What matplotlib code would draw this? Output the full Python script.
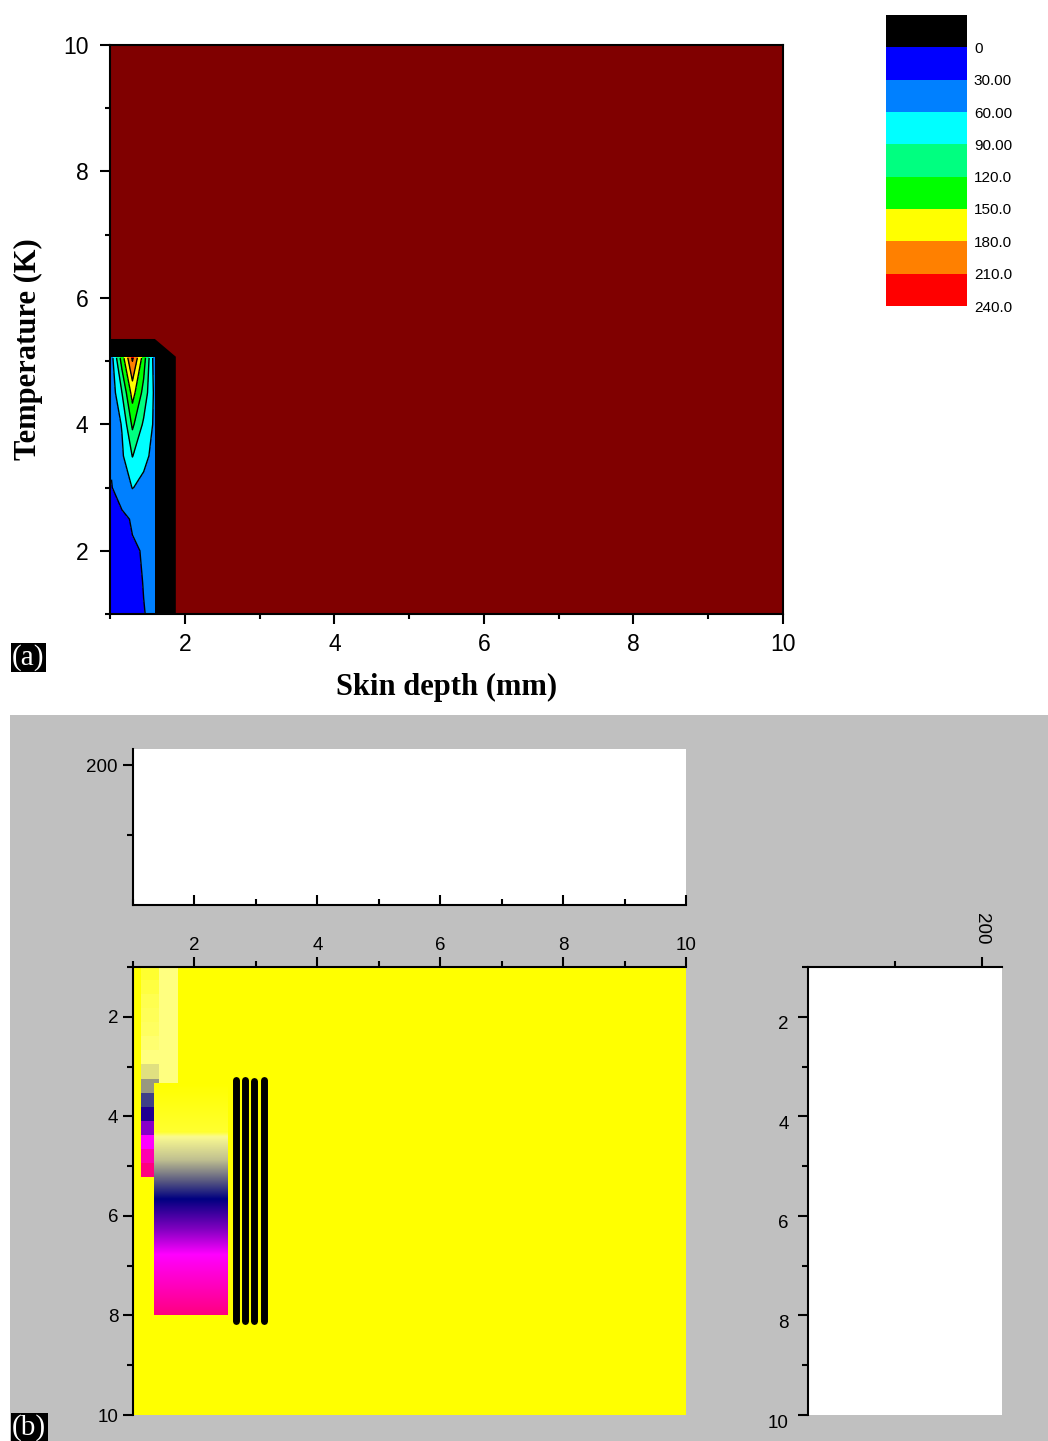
import numpy as np
import matplotlib
matplotlib.use('Agg')
import matplotlib.pyplot as plt
import matplotlib.cm as cm
from matplotlib.colors import ListedColormap, BoundaryNorm, LinearSegmentedColormap
from matplotlib.patches import Rectangle
from matplotlib.ticker import MultipleLocator, FixedLocator
from matplotlib.transforms import ScaledTranslation

W, H = 1048, 1441

# ---- panel (a): contour of the data block ----
depth = [1.02, 1.16, 1.30, 1.45, 1.59]
temp = [1.0, 1.5, 2.0, 2.5, 3.0, 3.5, 4.0, 4.5, 5.05]
# one row per temp value, one column per depth value
heat = [
    [10, 13, 17, 29, 36],
    [13, 17, 20, 31, 38],
    [15, 22, 28, 31, 41],
    [17, 25, 32, 38, 45],
    [29, 42, 61, 52, 48],
    [33, 55, 91, 68, 52],
    [38, 62, 126, 85, 56],
    [42, 90, 162, 110, 56],
    [48, 135, 215, 135, 48],
]
levels = [0, 30, 60, 90, 120, 150, 180, 210, 240]
band_colors = ['#0000ff', '#0080ff', '#00ffff', '#00ff80',
               '#00ff00', '#ffff00', '#ff8000', '#ff0000']
legend_labels = ['0', '30.00', '60.00', '90.00', '120.0',
                 '150.0', '180.0', '210.0', '240.0']
# outline of the black frame around the data block
frame_x = [1.0, 1.0, 1.60, 1.88, 1.88]
frame_y = [1.0, 5.35, 5.35, 5.07, 1.0]

# ---- panel (b): image pieces ----
strip_colors = ['#ffff30', '#ffff40', '#ffff50', '#ffff58', '#ffff60',
                '#ffff70', '#ffff80', '#e0e080', '#989880', '#404088',
                '#200090', '#8800c8', '#ff00ff', '#ff00b0', '#ff0080']
pale_color = '#ffff80'
ramp_pos = [0.0, 0.21, 0.23, 0.33, 0.43, 0.50, 0.63, 0.74, 1.0]
ramp_colors = ['#ffff00', '#ffff30', '#fafa90', '#c0c090', '#505080',
               '#000080', '#8000c0', '#ff00ff', '#ff0080']
stroke_x = [2.68, 2.83, 2.97, 3.14]
stroke_top = [3.28, 3.28, 3.30, 3.28]
stroke_bottom = [8.12, 8.12, 8.12, 8.12]

sans = 'Liberation Sans'
serif = 'Liberation Serif'

fig = plt.figure(figsize=(W / 100, H / 100), dpi=100)
fig.patches.append(Rectangle((10 / W, 0), 1038 / W, 726 / H, transform=fig.transFigure,
                             facecolor='#c0c0c0', edgecolor='none', zorder=-1))

# ---------------- panel (a) ----------------
ax = fig.add_axes([110 / W, 1 - 614 / H, 673 / W, 569 / H])
ax.set_facecolor('#800000')
ax.fill(frame_x, frame_y, color='black', lw=0)
ax.contourf(depth, temp, heat, levels=levels, colors=band_colors)
ax.contour(depth, temp, heat, levels=levels[1:-1], colors='black', linewidths=1.0)
ax.set_xlim(1, 10)
ax.set_ylim(1, 10)
for s in ax.spines.values():
    s.set_linewidth(1.5)
ax.xaxis.set_major_locator(MultipleLocator(2))
ax.xaxis.set_minor_locator(MultipleLocator(1))
ax.yaxis.set_major_locator(MultipleLocator(2))
ax.yaxis.set_minor_locator(MultipleLocator(1))
ax.tick_params(which='both', direction='out', width=1.5, top=False, right=False,
               labelsize=16.5, labelfontfamily=sans)
ax.tick_params(which='major', length=7.5)
ax.tick_params(which='minor', length=3.5)
ax.tick_params(axis='x', pad=6)
ax.tick_params(axis='y', pad=8)
ax.set_xlabel('Skin depth (mm)', fontfamily=serif, fontweight='bold', fontsize=22)
ax.set_ylabel('Temperature (K)', fontfamily=serif, fontweight='bold', fontsize=22)
ax.xaxis.set_label_coords(0.5, -0.103)
ax.yaxis.set_label_coords(-0.100, 0.466)

cax = fig.add_axes([886 / W, 1 - 306 / H, 81 / W, 291 / H])
cmap = ListedColormap(['black'] + band_colors)
norm = BoundaryNorm([-30] + levels, cmap.N)
cb = fig.colorbar(cm.ScalarMappable(norm=norm, cmap=cmap), cax=cax, ticks=levels)
cb.ax.invert_yaxis()
cb.outline.set_visible(False)
cb.ax.minorticks_off()
cb.ax.tick_params(which='both', length=0, pad=5)
cb.ax.set_yticklabels(legend_labels, fontfamily=sans, fontsize=11)

fig.text(12 / W, 1 - 671 / H, '(a)', color='white', fontfamily=serif, fontsize=21,
         ha='left', va='bottom', bbox=dict(facecolor='black', edgecolor='none', pad=1))

# ---------------- panel (b) ----------------
def style_b(a):
    for s in a.spines.values():
        s.set_linewidth(1.5)
    a.spines['right'].set_visible(False)
    a.tick_params(which='both', width=1.5, labelsize=13.5, labelfontfamily=sans)
    a.tick_params(which='major', length=7.5)
    a.tick_params(which='minor', length=4)

top_ax = fig.add_axes([133 / W, 1 - 905 / H, 553 / W, 156 / H])
top_ax.set_xlim(1, 10)
top_ax.set_ylim(0, 223)
top_ax.spines['top'].set_visible(False)
top_ax.xaxis.set_major_locator(MultipleLocator(2))
top_ax.xaxis.set_minor_locator(MultipleLocator(1))
top_ax.yaxis.set_major_locator(FixedLocator([200]))
top_ax.yaxis.set_minor_locator(FixedLocator([100]))
top_ax.tick_params(axis='x', which='both', direction='in', labelbottom=False)
top_ax.tick_params(axis='y', which='both', direction='out', pad=3.5)
style_b(top_ax)

bx = fig.add_axes([133 / W, 1 - 1415 / H, 553 / W, 448 / H])
bx.set_facecolor('#ffff00')
bx.spines['bottom'].set_visible(False)
bx.xaxis.tick_top()
bx.xaxis.set_major_locator(MultipleLocator(2))
bx.xaxis.set_minor_locator(MultipleLocator(1))
bx.yaxis.set_major_locator(MultipleLocator(2))
bx.yaxis.set_minor_locator(MultipleLocator(1))
bx.tick_params(which='both', direction='out')
bx.tick_params(axis='x', pad=1.5)
bx.tick_params(axis='y', pad=3)
style_b(bx)

strip_idx = np.arange(len(strip_colors)).reshape(-1, 1)
bx.imshow(strip_idx, cmap=ListedColormap(strip_colors), aspect='auto',
          extent=(1.13, 1.42, 5.22, 1.0), interpolation='nearest', zorder=1)
bx.imshow([[0]], cmap=ListedColormap([pale_color]), aspect='auto',
          extent=(1.42, 1.72, 3.35, 1.0), zorder=1)
ramp_cmap = LinearSegmentedColormap.from_list('ramp', list(zip(ramp_pos, ramp_colors)))
ramp = np.linspace(0, 1, 256).reshape(-1, 1)
bx.imshow(ramp, cmap=ramp_cmap, aspect='auto', extent=(1.34, 2.53, 8.0, 3.35), zorder=2)
bx.vlines(stroke_x, stroke_top, stroke_bottom, color='black', lw=5, zorder=3,
          capstyle='round')
bx.set_xlim(1, 10)
bx.set_ylim(10, 1)

rx = fig.add_axes([808 / W, 1 - 1415 / H, 194 / W, 448 / H])
rx.set_xlim(0, 223)
rx.set_ylim(10, 1)
rx.spines['bottom'].set_visible(False)
rx.xaxis.tick_top()
rx.xaxis.set_major_locator(FixedLocator([200]))
rx.xaxis.set_minor_locator(FixedLocator([100]))
rx.yaxis.set_major_locator(MultipleLocator(2))
rx.yaxis.set_minor_locator(MultipleLocator(1))
rx.tick_params(which='both', direction='out')
rx.tick_params(axis='x', pad=8.5)
rx.tick_params(axis='y', pad=6.5)
style_b(rx)
for lab in rx.get_xticklabels():
    lab.set_rotation(-90)
# the side panel's y labels sit a little below their ticks
shift = ScaledTranslation(0, -6 / 100, fig.dpi_scale_trans)
for lab in rx.get_yticklabels():
    lab.set_transform(lab.get_transform() + shift)

fig.text(12 / W, 1 - 1414 / H, '(b)', color='white', fontfamily=serif, fontsize=21,
         ha='left', va='top', bbox=dict(facecolor='black', edgecolor='none', pad=1))

fig.savefig('out.png', dpi=100)
